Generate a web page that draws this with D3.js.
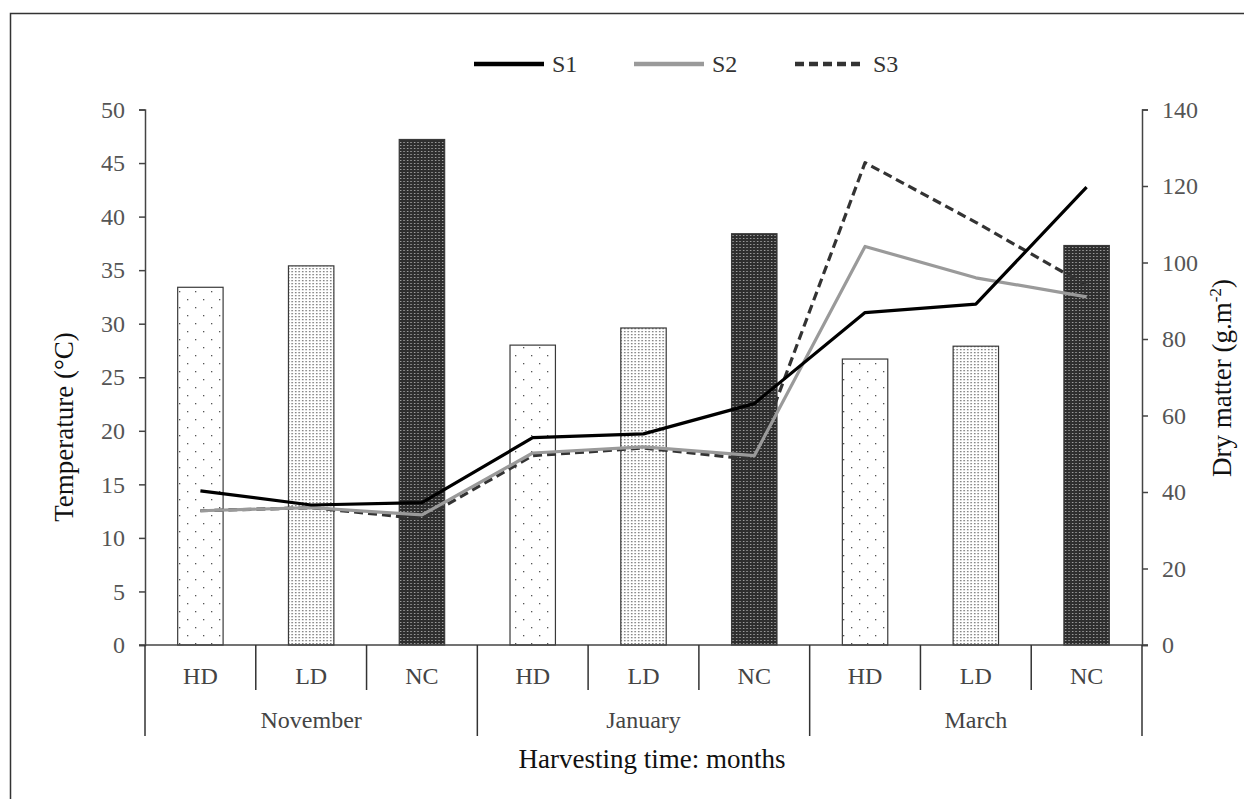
<!DOCTYPE html>
<html>
<head>
<meta charset="utf-8">
<script src="https://cdn.jsdelivr.net/npm/d3@7"></script>
<style>
  body { margin: 0; background: #fff; }
  text { font-family: "Liberation Serif", "DejaVu Serif", serif; }
</style>
</head>
<body>
<div id="chart"></div>
<script>
// Categories
const months = ["November", "January", "March"];
const treatments = ["HD", "LD", "NC"];

// Bars (left axis) per month x treatment
const barValues = [33.4, 35.4, 47.2, 28.0, 29.6, 38.4, 26.7, 27.9, 37.3];

// Lines (right axis)
const s1 = [40.3, 36.6, 37.2, 54.2, 55.2, 63.1, 86.9, 89.1, 119.7];
const s2 = [35.1, 35.9, 34.0, 50.2, 51.8, 49.5, 104.2, 96.0, 91.0];
const s3 = [35.1, 35.9, 33.0, 49.5, 51.5, 48.5, 126.1, 110.5, 94.0];
const seriesNames = ["S1", "S2", "S3"];

const leftTicks = d3.range(0, 51, 5);
const rightTicks = d3.range(0, 141, 20);

const width = 1244, height = 799;
const plot = { left: 145, right: 1142, top: 109.5, bottom: 645 };

const svg = d3.select("#chart").append("svg")
  .attr("width", width)
  .attr("height", height);

// outer frame
svg.append("rect")
  .attr("x", 10.5).attr("y", 13.5)
  .attr("width", 1250).attr("height", 820)
  .attr("fill", "none")
  .attr("stroke", "#333")
  .attr("stroke-width", 1.5);

// patterns for bars
const defs = svg.append("defs");

const pHD = defs.append("pattern").attr("id", "pat-hd")
  .attr("patternUnits", "userSpaceOnUse").attr("width", 16).attr("height", 16);
pHD.append("rect").attr("width", 16).attr("height", 16).attr("fill", "#fff");
pHD.append("rect").attr("x", 3).attr("y", 3).attr("width", 1.3).attr("height", 1.3).attr("fill", "#555");
pHD.append("rect").attr("x", 11).attr("y", 11).attr("width", 1.3).attr("height", 1.3).attr("fill", "#555");

const pLD = defs.append("pattern").attr("id", "pat-ld")
  .attr("patternUnits", "userSpaceOnUse").attr("width", 3.5).attr("height", 3);
pLD.append("rect").attr("width", 3.5).attr("height", 3).attr("fill", "#fff");
pLD.append("rect").attr("x", 1).attr("y", 1).attr("width", 1.4).attr("height", 1.3).attr("fill", "#707070");

const pNC = defs.append("pattern").attr("id", "pat-nc")
  .attr("patternUnits", "userSpaceOnUse").attr("width", 3.5).attr("height", 3);
pNC.append("rect").attr("width", 3.5).attr("height", 3).attr("fill", "#2e2e2e");
pNC.append("rect").attr("x", 1).attr("y", 1).attr("width", 1.2).attr("height", 1).attr("fill", "#bdbdbd");

const patternFor = { HD: "url(#pat-hd)", LD: "url(#pat-ld)", NC: "url(#pat-nc)" };

// data rows
const keys = [];
months.forEach(m => treatments.forEach(t => keys.push({ month: m, treat: t, key: m + "-" + t })));

const x = d3.scaleBand()
  .domain(keys.map(k => k.key))
  .range([plot.left, plot.right])
  .paddingInner(0.59)
  .paddingOuter(0.295);

const yL = d3.scaleLinear().domain([0, 50]).range([plot.bottom, plot.top]);
const yR = d3.scaleLinear().domain([0, 140]).range([plot.bottom, plot.top]);

// bars
svg.append("g").selectAll("rect")
  .data(keys)
  .join("rect")
  .attr("x", d => x(d.key))
  .attr("y", (d, i) => yL(barValues[i]))
  .attr("width", x.bandwidth())
  .attr("height", (d, i) => yL(0) - yL(barValues[i]))
  .attr("fill", d => patternFor[d.treat])
  .attr("stroke", "#3a3a3a")
  .attr("stroke-width", 1.2);

// left axis
const axL = svg.append("g")
  .attr("transform", `translate(${plot.left},0)`)
  .call(d3.axisLeft(yL).tickValues(leftTicks).tickSize(6).tickPadding(14));
axL.select(".domain").attr("stroke", "#444").attr("stroke-width", 1.5);
axL.selectAll(".tick line").attr("stroke", "#444").attr("stroke-width", 1.5);
axL.selectAll(".tick text")
  .attr("font-family", "Liberation Serif")
  .attr("font-size", 24).attr("fill", "#555");

// right axis
const axR = svg.append("g")
  .attr("transform", `translate(${plot.right},0)`)
  .call(d3.axisRight(yR).tickValues(rightTicks).tickSize(6).tickPadding(14));
axR.select(".domain").attr("stroke", "#444").attr("stroke-width", 1.5);
axR.selectAll(".tick line").attr("stroke", "#444").attr("stroke-width", 1.5);
axR.selectAll(".tick text")
  .attr("font-family", "Liberation Serif")
  .attr("font-size", 24).attr("fill", "#555");

// baseline
svg.append("line")
  .attr("x1", plot.left - 6).attr("x2", plot.right + 6)
  .attr("y1", yL(0)).attr("y2", yL(0))
  .attr("stroke", "#444").attr("stroke-width", 1.5);

// category separators (short for treatments, long for months)
const x0 = x.range()[0];
d3.range(0, keys.length + 1).forEach(i => {
  const bx = x0 + i * x.step();
  svg.append("line")
    .attr("x1", bx).attr("x2", bx)
    .attr("y1", yL(0))
    .attr("y2", i % treatments.length === 0 ? 736 : 690)
    .attr("stroke", "#333").attr("stroke-width", 1.5);
});

// treatment labels
svg.append("g").selectAll("text")
  .data(keys)
  .join("text")
  .attr("x", d => x(d.key) + x.bandwidth() / 2)
  .attr("y", 684)
  .attr("text-anchor", "middle")
  .attr("font-size", 24)
  .attr("fill", "#444")
  .text(d => d.treat);

// month labels
svg.append("g").selectAll("text")
  .data(months)
  .join("text")
  .attr("x", (d, i) => x0 + (i * 3 + 1.5) * x.step())
  .attr("y", 728)
  .attr("text-anchor", "middle")
  .attr("font-size", 24)
  .attr("fill", "#444")
  .text(d => d);

// lines
const series = [
  { name: "S1", values: s1, color: "#000", dash: null },
  { name: "S2", values: s2, color: "#9a9a9a", dash: null },
  { name: "S3", values: s3, color: "#333", dash: "9,5" }
];

const line = d3.line()
  .x((d, i) => x(keys[i].key) + x.bandwidth() / 2)
  .y(d => yR(d));

// draw S3 under S2 under S1 like the reference
[series[2], series[1], series[0]].forEach(s => {
  svg.append("path")
    .datum(s.values)
    .attr("d", line)
    .attr("fill", "none")
    .attr("stroke", s.color)
    .attr("stroke-width", 3.2)
    .attr("stroke-linejoin", "round")
    .attr("stroke-dasharray", s.dash);
});

// legend
const legendX = [474, 634, 795];
const legend = svg.append("g");
series.forEach((s, i) => {
  legend.append("line")
    .attr("x1", legendX[i]).attr("x2", legendX[i] + 70)
    .attr("y1", 64).attr("y2", 64)
    .attr("stroke", s.color)
    .attr("stroke-width", 4.5)
    .attr("stroke-dasharray", s.dash);
  legend.append("text")
    .attr("x", legendX[i] + 78)
    .attr("y", 72)
    .attr("font-size", 24)
    .attr("fill", "#333")
    .text(seriesNames[i]);
});

// axis titles
svg.append("text")
  .attr("x", 652).attr("y", 768)
  .attr("text-anchor", "middle")
  .attr("font-size", 27)
  .attr("fill", "#111")
  .text("Harvesting time: months");

svg.append("text")
  .attr("transform", "translate(73,427) rotate(-90)")
  .attr("text-anchor", "middle")
  .attr("font-size", 27)
  .attr("fill", "#111")
  .text("Temperature (°C)");

const rt = svg.append("text")
  .attr("transform", "translate(1231,378) rotate(-90)")
  .attr("text-anchor", "middle")
  .attr("font-size", 27)
  .attr("fill", "#111");
rt.append("tspan").text("Dry matter (g.m");
rt.append("tspan").attr("dy", -10).attr("font-size", 17).text("-2");
rt.append("tspan").attr("dy", 10).text(")");
</script>
</body>
</html>
